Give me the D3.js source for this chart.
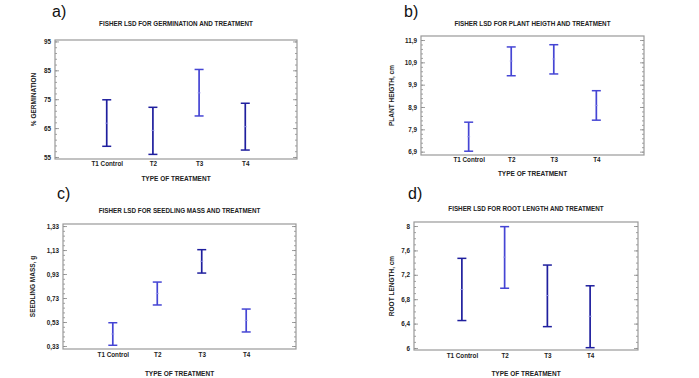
<!DOCTYPE html>
<html>
<head>
<meta charset="utf-8">
<script src="https://cdn.jsdelivr.net/npm/d3@7"></script>
<style>
  body { margin: 0; background: #fff; }
  svg { display: block; font-family: "Liberation Sans", Arial, sans-serif; }
</style>
</head>
<body>
<svg id="chart"></svg>
<script>
var categories = ["T1 Control", "T2", "T3", "T4"];

// a) germination (%)
var germLow  = [58.7, 55.9, 69.2, 57.4];
var germMean = [66.7, 64.2, 77.2, 65.5];
var germHigh = [74.8, 72.2, 85.3, 73.6];
var germTicks = [55, 65, 75, 85, 95];

// b) plant height (cm)
var heightLow  = [6.92, 10.30, 10.38, 8.31];
var heightMean = [7.57, 10.96, 11.05, 8.97];
var heightHigh = [8.22, 11.59, 11.69, 9.63];
var heightTicks = [6.9, 7.9, 8.9, 9.9, 10.9, 11.9];

// c) seedling mass (g)
var massLow  = [0.336, 0.672, 0.938, 0.447];
var massMean = [0.430, 0.768, 1.036, 0.543];
var massHigh = [0.524, 0.863, 1.133, 0.638];
var massTicks = [0.33, 0.53, 0.73, 0.93, 1.13, 1.33];

// d) root length (cm)
var rootLow  = [6.45, 6.98, 6.35, 6.005];
var rootMean = [6.96, 7.49, 6.86, 6.52];
var rootHigh = [7.47, 7.99, 7.36, 7.02];
var rootTicks = [6, 6.4, 6.8, 7.2, 7.6, 8];

const svgWidth = 699, svgHeight = 378;

var svg = d3.select("#chart")
    .attr("width", svgWidth)
    .attr("height", svgHeight);

svg.append("rect").attr("width", svgWidth).attr("height", svgHeight).attr("fill", "#fff");

var dark = "#1f1f9e", light = "#4545d4";

var panels = [
    { letter: "a)", title: "FISHER LSD FOR GERMINATION AND TREATMENT", ylab: "% GERMINATION",
      low: germLow, mean: germMean, high: germHigh, ticks: germTicks, domain: [54.3, 95.5], minor: 2, dec: 0,
      box: [55, 40, 297, 159], letterPos: [52, 17], titleY: 26, ylabX: 36, xTickY: 168, xlabY: 181,
      colors: [dark, dark, light, dark] },
    { letter: "b)", title: "FISHER LSD FOR PLANT HEIGTH AND TREATMENT", ylab: "PLANT HEIGTH, cm",
      low: heightLow, mean: heightMean, high: heightHigh, ticks: heightTicks, domain: [6.75, 12.08], minor: 0.2, dec: 1,
      box: [421, 36, 644, 155], letterPos: [404, 17], titleY: 26, ylabX: 394, xTickY: 164, xlabY: 176,
      colors: [light, light, light, light] },
    { letter: "c)", title: "FISHER LSD FOR SEEDLING MASS AND TREATMENT", ylab: "SEEDLING MASS, g",
      low: massLow, mean: massMean, high: massHigh, ticks: massTicks, domain: [0.305, 1.347], minor: 0.04, dec: 2,
      box: [63, 224, 296, 349], letterPos: [57, 199], titleY: 213, ylabX: 35, xTickY: 359, xlabY: 376,
      colors: [light, light, dark, light] },
    { letter: "d)", title: "FISHER LSD FOR ROOT LENGTH AND TREATMENT", ylab: "ROOT LENGTH, cm",
      low: rootLow, mean: rootMean, high: rootHigh, ticks: rootTicks, domain: [5.967, 8.066], minor: 0.1, dec: 1,
      box: [414, 222, 638, 350], letterPos: [408, 199], titleY: 211, ylabX: 394, xTickY: 360, xlabY: 376,
      colors: [dark, light, dark, dark] }
];

// comma decimals, trailing zeros dropped ("8", "7,6")
var fmt = function(dec) {
    return d => d3.format("." + dec + "~f")(d).replace(".", ",");
};

panels.forEach(function(p) {
    var x0 = p.box[0], y0 = p.box[1], x1 = p.box[2], y1 = p.box[3];
    var g = svg.append("g");

    var x = d3.scalePoint().domain(categories).range([x0, x1]).padding(1.12);
    var y = d3.scaleLinear().domain(p.domain).range([y1, y0]);

    // letter and title
    g.append("text").attr("x", p.letterPos[0]).attr("y", p.letterPos[1])
        .attr("font-size", 16).attr("fill", "#111").text(p.letter);
    g.append("text").attr("x", (x0 + x1) / 2).attr("y", p.titleY)
        .attr("text-anchor", "middle").attr("font-size", 6.3).attr("font-weight", "bold")
        .attr("fill", "#222").text(p.title);

    // minor ticks
    var lo = p.ticks[0], hi = p.ticks[p.ticks.length - 1];
    var minorVals = d3.range(Math.round((hi - lo) / p.minor) + 1).map(i => lo + i * p.minor);
    g.append("g").attr("transform", "translate(" + x0 + ",0)")
        .call(d3.axisLeft(y).tickValues(minorVals).tickSize(-2).tickFormat(""));
    g.append("g").attr("transform", "translate(" + x1 + ",0)")
        .call(d3.axisRight(y).tickValues(minorVals).tickSize(-2).tickFormat(""));

    // major ticks
    g.append("g").attr("transform", "translate(" + x0 + ",0)")
        .call(d3.axisLeft(y).tickValues(p.ticks).tickSize(-4).tickPadding(4).tickFormat(fmt(p.dec)));
    g.append("g").attr("transform", "translate(" + x1 + ",0)")
        .call(d3.axisRight(y).tickValues(p.ticks).tickSize(-4).tickFormat(""));

    // category labels
    g.append("g").attr("transform", "translate(0," + (p.xTickY - 6) + ")")
        .call(d3.axisBottom(x).tickSize(0).tickPadding(0));

    g.selectAll(".domain").remove();
    g.selectAll(".tick line").attr("stroke", "#888").attr("stroke-width", 0.8);
    g.selectAll(".tick text").attr("font-size", 6.3).attr("font-weight", "bold")
        .attr("fill", "#222").attr("font-family", "Liberation Sans, Arial, sans-serif");

    // frame
    g.append("rect").attr("x", x0).attr("y", y0)
        .attr("width", x1 - x0).attr("height", y1 - y0)
        .attr("fill", "none").attr("stroke", "#999").attr("stroke-width", 1.2);

    // axis titles
    g.append("text")
        .attr("transform", "translate(" + p.ylabX + "," + ((y0 + y1) / 2) + ") rotate(-90)")
        .attr("text-anchor", "middle").attr("font-size", 6.5).attr("font-weight", "bold")
        .attr("fill", "#222").text(p.ylab);
    g.append("text").attr("x", (x0 + x1) / 2).attr("y", p.xlabY)
        .attr("text-anchor", "middle").attr("font-size", 6.5).attr("font-weight", "bold")
        .attr("fill", "#222").text("TYPE OF TREATMENT");

    // LSD intervals
    var rows = categories.map((c, i) => ({ cat: c, low: p.low[i], mean: p.mean[i], high: p.high[i], color: p.colors[i] }));
    var bars = g.selectAll(".bar").data(rows).enter().append("g").attr("class", "bar");

    bars.append("line")
        .attr("x1", d => x(d.cat)).attr("x2", d => x(d.cat))
        .attr("y1", d => y(d.low)).attr("y2", d => y(d.high))
        .attr("stroke", d => d.color).attr("stroke-width", 1.7);
    bars.append("line")
        .attr("x1", d => x(d.cat) - 4.5).attr("x2", d => x(d.cat) + 4.5)
        .attr("y1", d => y(d.high)).attr("y2", d => y(d.high))
        .attr("stroke", d => d.color).attr("stroke-width", 1.5);
    bars.append("line")
        .attr("x1", d => x(d.cat) - 4.5).attr("x2", d => x(d.cat) + 4.5)
        .attr("y1", d => y(d.low)).attr("y2", d => y(d.low))
        .attr("stroke", d => d.color).attr("stroke-width", 1.5);
    bars.append("line")
        .attr("x1", d => x(d.cat) - 1.5).attr("x2", d => x(d.cat) + 1.5)
        .attr("y1", d => y(d.mean)).attr("y2", d => y(d.mean))
        .attr("stroke", "#9a9ae8").attr("stroke-width", 0.8);
});
</script>
</body>
</html>
